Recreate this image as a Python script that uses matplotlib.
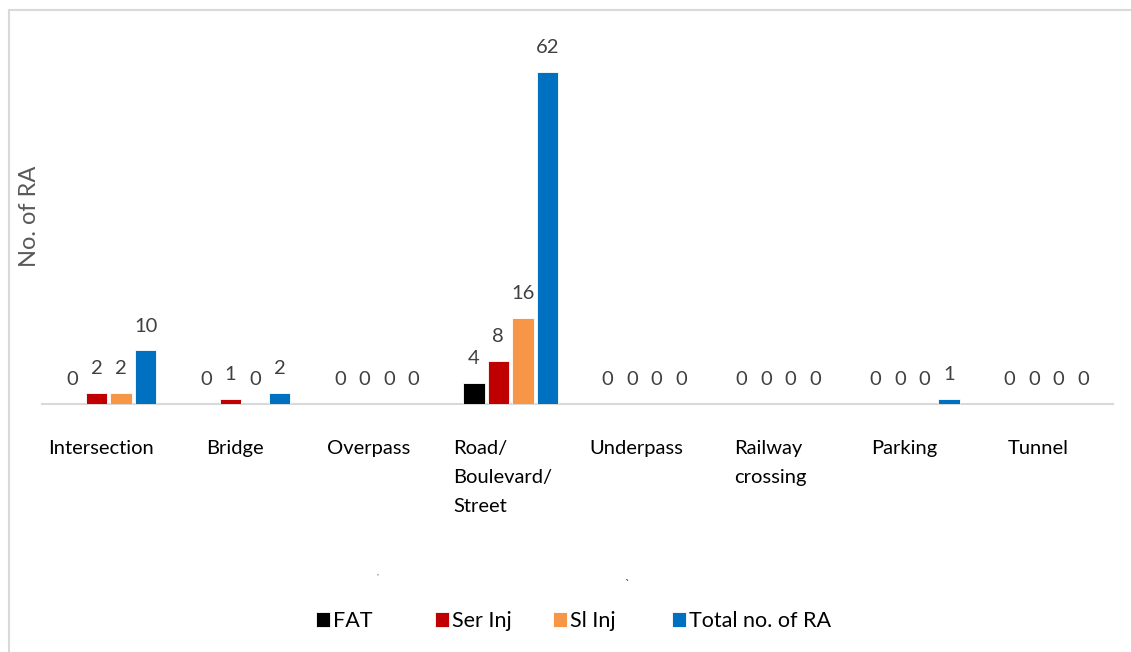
import matplotlib.pyplot as plt
import numpy as np
from matplotlib.patches import Rectangle
from matplotlib.transforms import ScaledTranslation

# data
categories = ['Intersection', 'Bridge', 'Overpass', 'Road/\nBoulevard/\nStreet',
              'Underpass', 'Railway\ncrossing', 'Parking', 'Tunnel']
series_names = ['FAT', 'Ser Inj', 'Sl Inj', 'Total no. of RA']
fat = [0, 0, 0, 4, 0, 0, 0, 0]
ser_inj = [2, 1, 0, 8, 0, 0, 0, 0]
sl_inj = [2, 0, 0, 16, 0, 0, 0, 0]
total = [10, 2, 0, 62, 0, 0, 1, 0]
colors = ['#000000', '#C00000', '#F79646', '#0070C0']

plt.rcParams['font.family'] = ['Lato', 'DejaVu Sans']

fig = plt.figure(figsize=(11.31, 6.52), dpi=100)
ax = fig.add_axes([42 / 1131, 1 - 404 / 652, 1071 / 1131, 375 / 652])

x = np.arange(len(categories))
step = 0.183
width = 0.16
bars = []
for i, vals in enumerate([fat, ser_inj, sl_inj, total]):
    pos = x + (i - 1.5) * step
    b = ax.bar(pos, vals, width, color=colors[i], edgecolor='white',
               linewidth=0.6, label=series_names[i], zorder=3)
    bars.append(b)
    for px, v in zip(pos, vals):
        ax.annotate(str(v), (px, v), xytext=(0, 17.5), textcoords='offset points',
                    ha='center', va='center', fontsize=14.5, color='#404040')

ax.set_xlim(-0.5, len(categories) - 0.5)
ax.set_ylim(0, 70)
ax.set_yticks([])
ax.set_xticks(x)
ax.set_xticklabels(categories, fontsize=14.5, multialignment='left', va='top',
                   linespacing=1.85)
ax.tick_params(axis='x', length=0, pad=26)
shift = ScaledTranslation(-8 / 100, 0, fig.dpi_scale_trans)
for lbl in ax.get_xticklabels():
    lbl.set_transform(lbl.get_transform() + shift)
for s in ['top', 'right', 'left']:
    ax.spines[s].set_visible(False)
ax.spines['bottom'].set_color('#D9D9D9')
ax.spines['bottom'].set_linewidth(1.5)

fig.text(30 / 1131, 1 - 216 / 652, 'No. of RA', rotation=90, ha='center',
         va='center', fontsize=17, color='#595959')

# stray marks in the original
fig.text(377 / 1131, 1 - 572 / 652, ',', fontsize=6, color='#404040', ha='center', va='center')
fig.text(627 / 1131, 1 - 585 / 652, '`', fontsize=9, color='#404040', ha='center', va='center')

# legend entries spaced evenly like the original
legend_x = [316, 435, 553, 672]
for b, name, lx in zip(bars, series_names, legend_x):
    fig.legend(handles=[b], labels=[name], loc='center left',
               bbox_to_anchor=(lx / 1131, 1 - 621 / 652), frameon=False,
               fontsize=15.5, handlelength=0.65, handleheight=0.65,
               handletextpad=0.15, borderpad=0, borderaxespad=0)

# chart border (left and top visible)
fig.patches.append(Rectangle((9 / 1131, -0.1), 1.2, 1 - 10 / 652 + 0.1,
                             transform=fig.transFigure, fill=False,
                             edgecolor='#D9D9D9', linewidth=1.5))

fig.savefig('out.png', dpi=100)
